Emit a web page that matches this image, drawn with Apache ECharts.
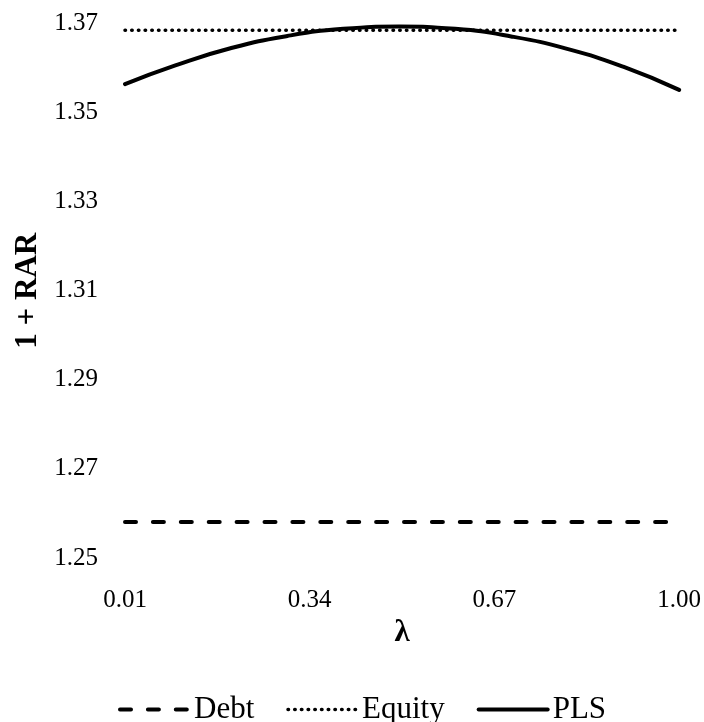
<!DOCTYPE html>
<html>
<head>
<meta charset="utf-8">
<script src="https://cdn.jsdelivr.net/npm/echarts@6/dist/echarts.min.js"></script>
<style>
html,body{margin:0;padding:0;background:#fff;}
#chart{width:704px;height:722px;}
</style>
</head>
<body>
<div id="chart"></div>
<script>
// Data
var lambdaValues = [0.01, 0.1, 0.2, 0.3, 0.4, 0.5, 0.6, 0.7, 0.8, 0.9, 1.0];
var debtValues   = [1.2581, 1.2581, 1.2581, 1.2581, 1.2581, 1.2581, 1.2581, 1.2581, 1.2581, 1.2581, 1.2581];
var equityValues = [1.3685, 1.3685, 1.3685, 1.3685, 1.3685, 1.3685, 1.3685, 1.3685, 1.3685, 1.3685, 1.3685];
var plsValues    = [1.3564, 1.3606, 1.3645, 1.3672, 1.3688, 1.3693, 1.3688, 1.3671, 1.3643, 1.3603, 1.3551];
var xTicks = ['0.01', '0.34', '0.67', '1.00'];
var yTicks = ['1.25', '1.27', '1.29', '1.31', '1.33', '1.35', '1.37'];
var seriesNames = ['Debt', 'Equity', 'PLS'];

function pairs(vals) {
  return lambdaValues.map(function (x, i) { return [x, vals[i]]; });
}

var FONT = '"Liberation Serif", "Times New Roman", serif';
var debtLine   = {color: '#000', width: 4, type: [11, 16.9], cap: 'round'};
var equityLine = {color: '#000', width: 3.5, type: [0.5, 6.2], cap: 'round'};
var plsLine    = {color: '#000', width: 4, type: 'solid', cap: 'round'};

var chart = echarts.init(document.getElementById('chart'), null, {renderer: 'canvas'});
chart.setOption({
  animation: false,
  backgroundColor: '#ffffff',
  grid: {left: 125, right: 23, top: 23.5, bottom: 164, containLabel: false},
  xAxis: {
    type: 'value',
    min: parseFloat(xTicks[0]),
    max: parseFloat(xTicks[xTicks.length - 1]),
    interval: 0.33,
    name: 'λ',
    nameLocation: 'middle',
    nameGap: 58,
    nameTextStyle: {fontFamily: FONT, fontSize: 31, fontWeight: 'bold', color: '#000'},
    axisLine: {show: false},
    axisTick: {show: false},
    splitLine: {show: false},
    axisLabel: {
      fontFamily: FONT, fontSize: 25, color: '#000', margin: 30,
      formatter: function (v) { return v.toFixed(2); }
    }
  },
  yAxis: {
    type: 'value',
    min: parseFloat(yTicks[0]),
    max: parseFloat(yTicks[yTicks.length - 1]),
    interval: 0.02,
    name: '1 + RAR',
    nameLocation: 'middle',
    nameGap: 82,
    nameTextStyle: {fontFamily: FONT, fontSize: 31, fontWeight: 'bold', color: '#000'},
    axisLine: {show: false},
    axisTick: {show: false},
    splitLine: {show: false},
    axisLabel: {
      fontFamily: FONT, fontSize: 25, color: '#000', margin: 27,
      formatter: function (v) { return v.toFixed(2); }
    }
  },
  legend: {
    data: [
      {name: seriesNames[0], lineStyle: debtLine},
      {name: seriesNames[1], lineStyle: equityLine},
      {name: seriesNames[2], lineStyle: plsLine}
    ],
    left: 113,
    top: 689,
    itemWidth: 69,
    itemHeight: 14,
    itemGap: 32,
    itemStyle: {opacity: 0},
    lineStyle: {width: 'inherit'},
    textStyle: {fontFamily: FONT, fontSize: 31, color: '#000'}
  },
  series: [
    {
      name: seriesNames[0], type: 'line', data: pairs(debtValues),
      symbol: 'none', smooth: false,
      lineStyle: debtLine, itemStyle: {color: '#000'}
    },
    {
      name: seriesNames[1], type: 'line', data: pairs(equityValues),
      symbol: 'none', smooth: false,
      lineStyle: equityLine, itemStyle: {color: '#000'}
    },
    {
      name: seriesNames[2], type: 'line', data: pairs(plsValues),
      symbol: 'none', smooth: true,
      lineStyle: plsLine, itemStyle: {color: '#000'}
    }
  ]
});
</script>
</body>
</html>
